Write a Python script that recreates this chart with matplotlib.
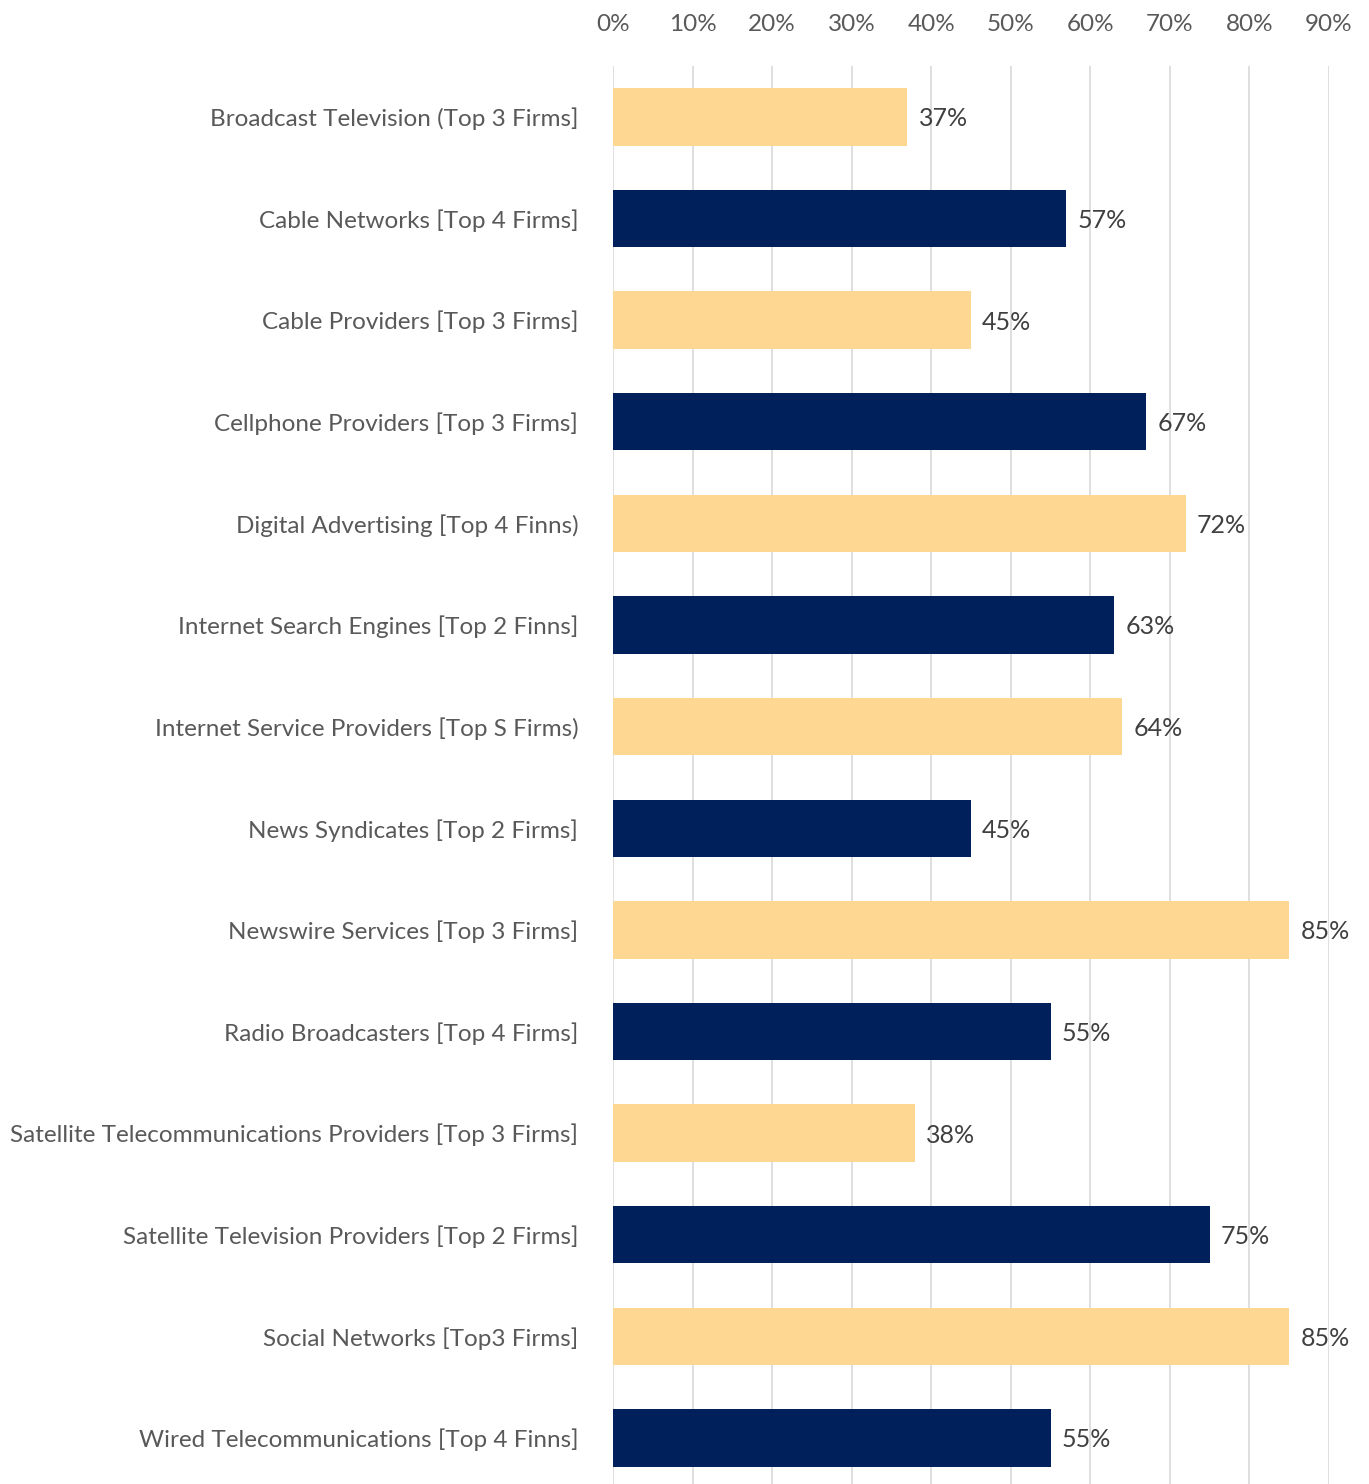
import matplotlib
matplotlib.use("Agg")
import matplotlib.pyplot as plt
from matplotlib.ticker import FuncFormatter

categories = [
    "Broadcast Television (Top 3 Firms]",
    "Cable Networks [Top 4 Firms]",
    "Cable Providers [Top 3 Firms]",
    "Cellphone Providers [Top 3 Firms]",
    "Digital Advertising [Top 4 Finns)",
    "Internet Search Engines [Top 2 Finns]",
    "Internet Service Providers [Top S Firms)",
    "News Syndicates [Top 2 Firms]",
    "Newswire Services [Top 3 Firms]",
    "Radio Broadcasters [Top 4 Firms]",
    "Satellite Telecommunications Providers [Top 3 Firms]",
    "Satellite Television Providers [Top 2 Firms]",
    "Social Networks [Top3 Firms]",
    "Wired Telecommunications [Top 4 Finns]",
]
values = [37, 57, 45, 67, 72, 63, 64, 45, 85, 55, 38, 75, 85, 55]
xticks = [0, 10, 20, 30, 40, 50, 60, 70, 80, 90]

YELLOW = "#FED893"
NAVY = "#00205B"
colors = [YELLOW if i % 2 == 0 else NAVY for i in range(len(values))]

plt.rcParams['font.family'] = ['Lato', 'DejaVu Sans']

W, H = 1369, 1484
fig = plt.figure(figsize=(W / 100, H / 100), dpi=100)
left = 613 / W
right = 1329 / W
top = 1 - 66 / H
ax = fig.add_axes([left, 0, right - left, top])

y = list(range(len(values)))
ax.barh(y, values, height=0.565, color=colors, zorder=3)
ax.set_xlim(0, 90)
ax.set_ylim(13 + (H - 1438) / 101.6, -0.5)
ax.set_xticks(xticks)
ax.xaxis.set_major_formatter(FuncFormatter(lambda v, p: f"{int(v)}%"))
ax.xaxis.tick_top()
ax.tick_params(axis='x', length=0, pad=22, labelsize=17.5, labelcolor="#595959")
ax.set_yticks(y)
ax.set_yticklabels(categories)
ax.tick_params(axis='y', length=0, pad=25, labelsize=17.5, labelcolor="#595959")
ax.grid(axis='x', color="#D9D9D9", linewidth=1.2, zorder=0)
for s in ax.spines.values():
    s.set_visible(False)

for yi, v in zip(y, values):
    ax.text(v + 1.4, yi, f"{v}%", va='center_baseline', ha='left', fontsize=18,
            color="#404040", clip_on=False)

fig.savefig("out.png", dpi=100)
